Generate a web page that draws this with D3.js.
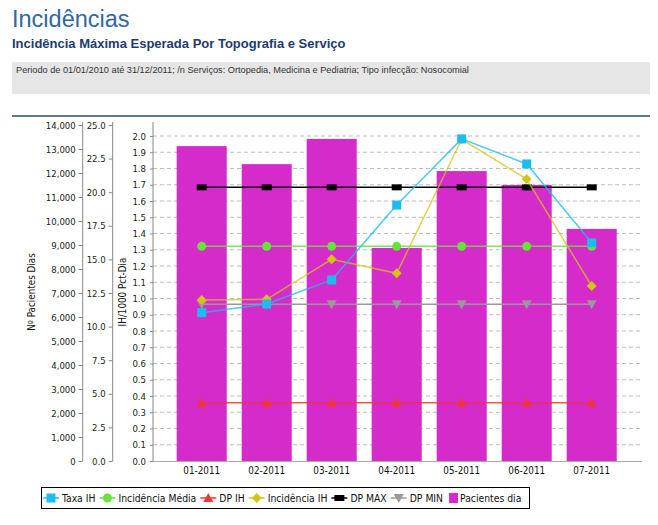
<!DOCTYPE html>
<html><head><meta charset="utf-8">
<script src="https://cdn.jsdelivr.net/npm/d3@7/dist/d3.min.js"></script>
<style>
body{margin:0;background:#fff;}
svg{display:block;}
</style></head>
<body>
<svg id="c" width="658" height="525"></svg>
<script>
const categories = ["01-2011","02-2011","03-2011","04-2011","05-2011","06-2011","07-2011"];
const pacientesDia = [13120, 12370, 13420, 8880, 12080, 11500, 9670];
const taxaIH = [0.913, 0.966, 1.114, 1.575, 1.982, 1.828, 1.343];
const incidenciaIH = [0.991, 0.995, 1.241, 1.155, 1.98, 1.735, 1.077];
const incidenciaMedia = [1.321, 1.321, 1.321, 1.321, 1.321, 1.321, 1.321];
const dpIH = [0.359, 0.359, 0.359, 0.359, 0.359, 0.359, 0.359];
const dpMax = [1.684, 1.684, 1.684, 1.684, 1.684, 1.684, 1.684];
const dpMin = [0.964, 0.964, 0.964, 0.964, 0.964, 0.964, 0.964];
const leftTicks = d3.range(0, 14001, 1000);
const midTicks = d3.range(0, 25.01, 2.5);
const ihTicks = d3.range(0, 21).map(d => d / 10);

const svg = d3.select("#c");
const font = "'DejaVu Sans Condensed','DejaVu Sans',sans-serif";

// header
svg.append("text").attr("x", 12).attr("y", 27).text("Incidências")
  .attr("font-family", "'Liberation Sans',Arial,sans-serif").attr("font-size", 23.5).attr("fill", "#3068a0");
svg.append("text").attr("x", 12).attr("y", 48).text("Incidência Máxima Esperada Por Topografia e Serviço")
  .attr("font-family", "'Liberation Sans',Arial,sans-serif").attr("font-size", 13).attr("font-weight", "bold").attr("fill", "#1d3c6b");
svg.append("rect").attr("x", 12).attr("y", 62).attr("width", 638).attr("height", 32).attr("fill", "#e6e6e6");
svg.append("text").attr("x", 16).attr("y", 73).text("Periodo de 01/01/2010 até 31/12/2011; /n Serviços: Ortopedia, Medicina e Pediatria; Tipo infecção: Nosocomial")
  .attr("font-family", "'Liberation Sans',Arial,sans-serif").attr("font-size", 9.2).attr("fill", "#333");
svg.append("line").attr("x1", 12).attr("x2", 650).attr("y1", 116).attr("y2", 116).attr("stroke", "#2b4a6b").attr("stroke-width", 1.5);

// scales
const yBottom = 461;
const yLeft = d3.scaleLinear().domain([0, 14000]).range([yBottom, 125]);
const yMid = d3.scaleLinear().domain([0, 25]).range([yBottom, 125]);
const yIH = d3.scaleLinear().domain([0, 2]).range([yBottom, 136]);
const x = d3.scaleBand().domain(categories).range([169.2, 624.2]).paddingInner(0.23).paddingOuter(0.115);
const cx = d => x(d) + x.bandwidth() / 2;
const plotL = 153, plotR = 642;

// gridlines
svg.append("g").selectAll("line").data(ihTicks.filter(d => d > 0)).join("line")
  .attr("x1", plotL).attr("x2", plotR).attr("y1", d => yIH(d)).attr("y2", d => yIH(d))
  .attr("stroke", "#bdbdbd").attr("stroke-dasharray", "4,3").attr("stroke-width", 1);

// bars
svg.append("g").selectAll("rect").data(pacientesDia).join("rect")
  .attr("x", (d, i) => x(categories[i])).attr("width", x.bandwidth())
  .attr("y", d => yLeft(d)).attr("height", d => yBottom - yLeft(d)).attr("fill", "#d52bca");

// axes
function styleAxis(g) {
  g.selectAll("text").attr("font-family", font).attr("font-size", 9.5).attr("fill", "#222");
  g.selectAll("line").attr("stroke", "#888");
  g.select(".domain").remove();
}
const gL = svg.append("g").attr("transform", "translate(82.7,0)")
  .call(d3.axisLeft(yLeft).tickValues(leftTicks).tickFormat(d3.format(",")).tickSize(4).tickPadding(3));
styleAxis(gL);
svg.append("line").attr("x1", 82.7).attr("x2", 82.7).attr("y1", 122).attr("y2", yBottom).attr("stroke", "#888");
const gM = svg.append("g").attr("transform", "translate(112.7,0)")
  .call(d3.axisLeft(yMid).tickValues(midTicks).tickFormat(d3.format(".1f")).tickSize(4).tickPadding(3));
styleAxis(gM);
svg.append("line").attr("x1", 112.7).attr("x2", 112.7).attr("y1", 122).attr("y2", yBottom).attr("stroke", "#888");
const gI = svg.append("g").attr("transform", "translate(153,0)")
  .call(d3.axisLeft(yIH).tickValues(ihTicks).tickFormat(d3.format(".1f")).tickSize(3).tickPadding(4));
styleAxis(gI);
svg.append("line").attr("x1", 153).attr("x2", 153).attr("y1", 122).attr("y2", yBottom).attr("stroke", "#888");
svg.append("line").attr("x1", plotL).attr("x2", plotR).attr("y1", yBottom + 0.5).attr("y2", yBottom + 0.5).attr("stroke", "#aaa");
const gX = svg.append("g").attr("transform", `translate(0,${yBottom})`)
  .call(d3.axisBottom(x).tickSize(0).tickPadding(6));
styleAxis(gX);
gX.selectAll("text").attr("font-size", 9.8).attr("fill", "#111");

// axis titles
svg.append("text").attr("transform", "translate(35,292) rotate(-90)").attr("text-anchor", "middle")
  .text("Nº Pacientes Dias").attr("font-family", font).attr("font-size", 9.8).attr("fill", "#111");
svg.append("text").attr("transform", "translate(126,292) rotate(-90)").attr("text-anchor", "middle")
  .text("IH/1000 Pct-Dia").attr("font-family", font).attr("font-size", 9.8).attr("fill", "#111");

// series
const series = [
  {name: "DP MAX", data: dpMax, color: "#000000", sym: "rect", op: 1},
  {name: "DP MIN", data: dpMin, color: "#999999", sym: "triDown", op: 1},
  {name: "DP IH", data: dpIH, color: "#f03535", sym: "tri", op: 0.85},
  {name: "Incidência Média", data: incidenciaMedia, color: "#66e23a", sym: "circle", op: 0.85},
  {name: "Incidência IH", data: incidenciaIH, color: "#d4c414", sym: "diamond", op: 0.75},
  {name: "Taxa IH", data: taxaIH, color: "#1cbcf0", sym: "square", op: 0.8}
];
function drawSym(g, sym, color, px, py) {
  if (sym === "rect") g.append("rect").attr("x", px - 5).attr("y", py - 3).attr("width", 10).attr("height", 6).attr("fill", color);
  else if (sym === "square") g.append("rect").attr("x", px - 4.5).attr("y", py - 4.5).attr("width", 9).attr("height", 9).attr("fill", color);
  else if (sym === "circle") g.append("circle").attr("cx", px).attr("cy", py).attr("r", 4.5).attr("fill", color);
  else if (sym === "diamond") g.append("path").attr("d", `M${px},${py-5}L${px+5},${py}L${px},${py+5}L${px-5},${py}Z`).attr("fill", color);
  else if (sym === "tri") g.append("path").attr("d", `M${px},${py-5}L${px+5},${py+4}L${px-5},${py+4}Z`).attr("fill", color);
  else if (sym === "triDown") g.append("path").attr("d", `M${px-5},${py-4}L${px+5},${py-4}L${px},${py+5}Z`).attr("fill", color);
}
const line = d3.line().x((d, i) => cx(categories[i])).y(d => yIH(d));
series.forEach(s => {
  const g = svg.append("g");
  g.append("path").attr("d", line(s.data)).attr("fill", "none").attr("stroke", s.color)
    .attr("stroke-width", 1.5).attr("stroke-opacity", s.op);
  s.data.forEach((v, i) => drawSym(g, s.sym, s.color, cx(categories[i]), yIH(v)));
});

// legend
const legendOrder = ["Taxa IH", "Incidência Média", "DP IH", "Incidência IH", "DP MAX", "DP MIN"];
const lg = svg.append("g");
lg.append("rect").attr("x", 41.5).attr("y", 487.5).attr("width", 488).attr("height", 21)
  .attr("fill", "#fff").attr("stroke", "#000").attr("stroke-width", 1);
const legendFont = 10.3;
let lx = 43;
const ly = 498;
legendOrder.forEach(n => {
  const s = series.find(t => t.name === n);
  lg.append("line").attr("x1", lx).attr("x2", lx + 16).attr("y1", ly).attr("y2", ly).attr("stroke", s.color).attr("stroke-width", 1.5);
  drawSym(lg, s.sym, s.color, lx + 8, ly);
  const t = lg.append("text").attr("x", lx + 19).attr("y", ly + 4).text(n)
    .attr("font-family", font).attr("font-size", legendFont).attr("fill", "#111");
  lx = lx + 19 + t.node().getComputedTextLength() + 4;
});
lg.append("rect").attr("x", lx + 2).attr("y", ly - 5).attr("width", 9).attr("height", 10).attr("fill", "#d52bca");
const lastT = lg.append("text").attr("x", lx + 13).attr("y", ly + 4).text("Pacientes dia")
  .attr("font-family", font).attr("font-size", legendFont).attr("fill", "#111");
</script>
</body></html>
